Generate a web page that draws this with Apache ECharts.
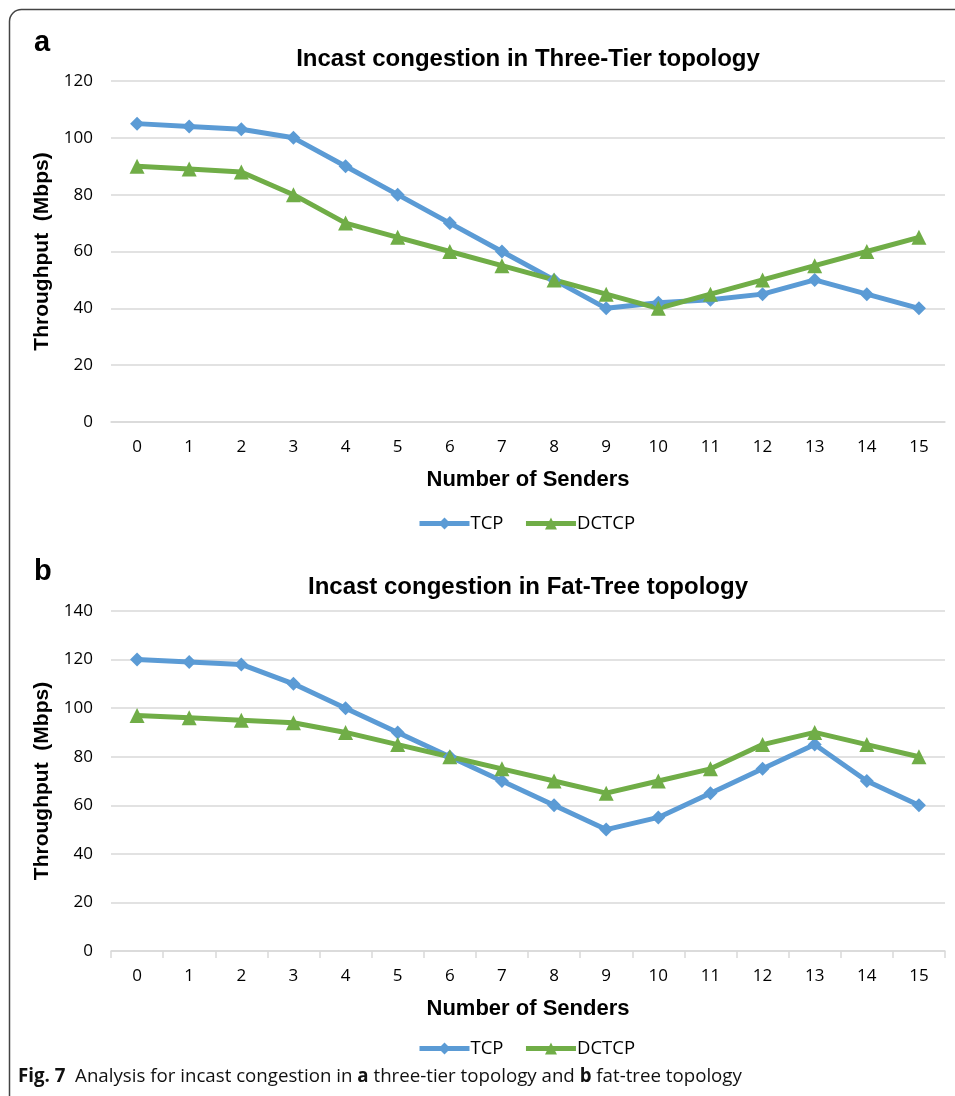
<!DOCTYPE html>
<html>
<head>
<meta charset="utf-8">
<script src="https://cdn.jsdelivr.net/npm/echarts@6/dist/echarts.min.js"></script>
<style>
html,body{margin:0;padding:0;background:#fff;}
#chart{width:955px;height:1096px;}
</style>
</head>
<body>
<div id="chart"></div>
<script>
const senders = ['0','1','2','3','4','5','6','7','8','9','10','11','12','13','14','15'];
const threeTierTCP   = [105,104,103,100,90,80,70,60,50,40,42,43,45,50,45,40];
const threeTierDCTCP = [90,89,88,80,70,65,60,55,50,45,40,45,50,55,60,65];
const fatTreeTCP     = [120,119,118,110,100,90,80,70,60,50,55,65,75,85,70,60];
const fatTreeDCTCP   = [97,96,95,94,90,85,80,75,70,65,70,75,85,90,85,80];
const titleA = 'Incast congestion in Three-Tier topology';
const titleB = 'Incast congestion in Fat-Tree topology';
const xName = 'Number of Senders';
const yName = 'Throughput  (Mbps)';

const BLUE = '#5B9BD5', GREEN = '#70AD47';
const tickFont = {fontFamily:'Open Sans', fontSize:17, color:'#000'};
const boldFont = {fontFamily:'Liberation Sans', fontWeight:'bold', color:'#000'};

function xAxis(gi, ticks){
  return {
    type:'category', gridIndex:gi, data:senders, boundaryGap:true,
    axisLine:{show:true, lineStyle:{color:'#d9d9d9', width:1.5}},
    axisTick:{show:ticks, length:7, lineStyle:{color:'#d9d9d9', width:1.5}},
    axisLabel:Object.assign({margin:17}, tickFont),
    name:xName, nameLocation:'middle', nameGap:47,
    nameTextStyle:Object.assign({fontSize:22}, boldFont)
  };
}
function yAxis(gi, max){
  return {
    type:'value', gridIndex:gi, min:0, max:max, interval:20,
    axisLine:{show:false}, axisTick:{show:false},
    splitLine:{lineStyle:{color:'#d9d9d9', width:1.5}},
    axisLabel:Object.assign({margin:18}, tickFont),
    name:yName, nameLocation:'middle', nameGap:56,
    nameTextStyle:Object.assign({fontSize:21}, boldFont)
  };
}
function ser(name, gi, data){
  const isT = name === 'TCP';
  return {
    name:name, type:'line', xAxisIndex:gi, yAxisIndex:gi, data:data,
    symbol:isT ? 'diamond' : 'triangle', symbolSize:isT ? 14 : 15,
    itemStyle:{color:isT ? BLUE : GREEN},
    lineStyle:{color:isT ? BLUE : GREEN, width:5},
    animation:false
  };
}
const legendBase = {
  data:['TCP','DCTCP'], itemWidth:50, itemHeight:15, itemGap:20,
  lineStyle:{width:5},
  textStyle:{fontFamily:'Open Sans', fontSize:18.5, color:'#000', padding:[0,0,0,-4]},
  left:412
};

const chart = echarts.init(document.getElementById('chart'), null, {renderer:'canvas'});
chart.setOption({
  backgroundColor:'#fff',
  animation:false,
  title:[
    {text:titleA, left:523, top:42, textAlign:'center', textStyle:Object.assign({fontSize:24}, boldFont)},
    {text:titleB, left:523, top:570, textAlign:'center', textStyle:Object.assign({fontSize:24}, boldFont)}
  ],
  legend:[
    Object.assign({top:509}, legendBase),
    Object.assign({top:1034}, legendBase)
  ],
  grid:[
    {left:111, right:10, top:81, height:341},
    {left:111, right:10, top:611, height:340}
  ],
  xAxis:[xAxis(0,false), xAxis(1,true)],
  yAxis:[yAxis(0,120), yAxis(1,140)],
  series:[
    ser('TCP',0,threeTierTCP), ser('DCTCP',0,threeTierDCTCP),
    ser('TCP',1,fatTreeTCP), ser('DCTCP',1,fatTreeDCTCP)
  ],
  graphic:[
    {type:'rect', shape:{x:9.5, y:9.5, width:980, height:1120, r:12}, style:{fill:null, stroke:'#444', lineWidth:1.5}, silent:true, z:-1},
    {type:'text', left:34, top:28, style:{text:'a', font:'bold 29px "Liberation Sans"', fill:'#000'}},
    {type:'text', left:34, top:557, style:{text:'b', font:'bold 29px "Liberation Sans"', fill:'#000'}},
    {type:'text', left:18, top:1067, style:{
      text:'{b|Fig. 7}  Analysis for incast congestion in {b|a} three-tier topology and {b|b} fat-tree topology',
      font:'18.7px "Open Sans"', fill:'#111',
      rich:{b:{fontFamily:'Open Sans', fontWeight:'bold', fontSize:18.7, fill:'#111'}}
    }}
  ]
});
</script>
</body>
</html>
